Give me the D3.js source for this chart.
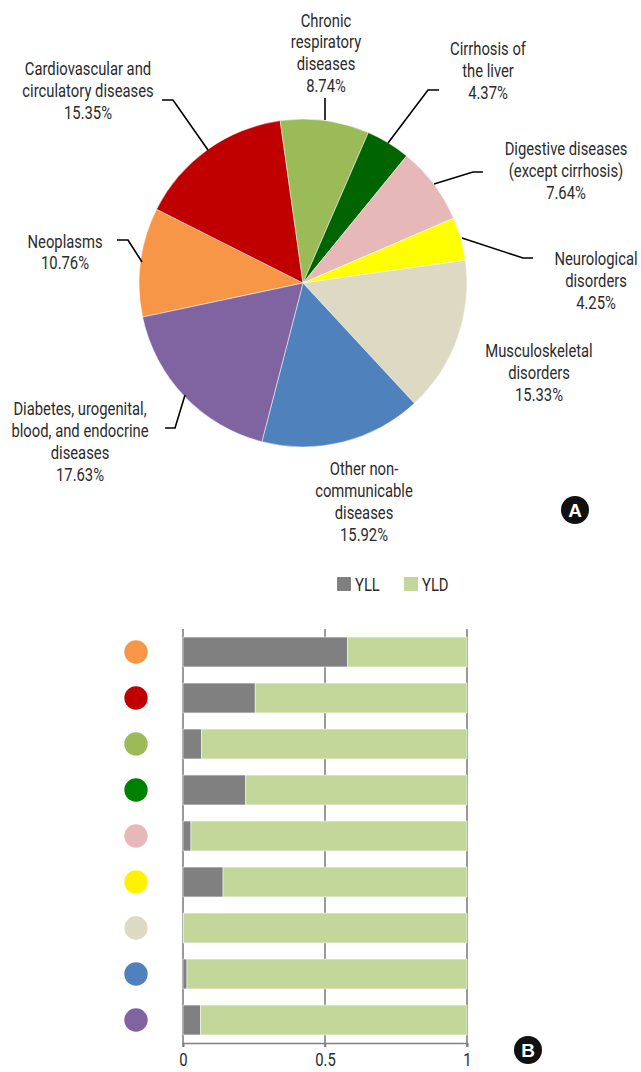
<!DOCTYPE html>
<html><head><meta charset="utf-8">
<script src="https://cdn.jsdelivr.net/npm/d3@7"></script>
<style>
body{margin:0;background:#fff;}
svg{display:block;}
text{font-family:"Roboto","Liberation Sans",sans-serif;fill:#2b2b2b;}
</style></head>
<body>
<script>
const categories = ["Neoplasms","Cardiovascular and circulatory diseases","Chronic respiratory diseases","Cirrhosis of the liver","Digestive diseases (except cirrhosis)","Neurological disorders","Musculoskeletal disorders","Other non-communicable diseases","Diabetes, urogenital, blood, and endocrine diseases"];
const shares = [10.76,15.35,8.74,4.37,7.64,4.25,15.33,15.92,17.63];
const pieColors = ["#F79646","#C00000","#9BBB59","#006400","#E6B9B8","#FFFF00","#DDD9C3","#4F81BD","#8064A2"];
const dotColors = ["#F79646","#C00000","#9BBB59","#008000","#E6B9B8","#FFF200","#DDD9C3","#4F81BD","#8064A2"];
const labelLines = [["Neoplasms","10.76%"],["Cardiovascular and","circulatory diseases","15.35%"],["Chronic","respiratory","diseases","8.74%"],["Cirrhosis of","the liver","4.37%"],["Digestive diseases","(except cirrhosis)","7.64%"],["Neurological","disorders","4.25%"],["Musculoskeletal","disorders","15.33%"],["Other non-","communicable","diseases","15.92%"],["Diabetes, urogenital,","blood, and endocrine","diseases","17.63%"]];
const yll = [0.58,0.254,0.066,0.221,0.028,0.141,0.002,0.014,0.062];
const yld = yll.map(v=>1-v);
const seriesNames = ["YLL","YLD"];
const seriesColors = ["#808080","#C4D79B"];
const xTicks = [0,0.5,1];

const W=641,H=1072;
const SX=0.80, FS=18.5; // condensed look of the font
const svg=d3.select("body").append("svg").attr("width",W).attr("height",H);

// ---- Pie (A)
const cx=303, cy=283, R=164;
const startDeg=-102;
const pie=d3.pie().sort(null).value(d=>d).startAngle(startDeg*Math.PI/180).endAngle((startDeg+360)*Math.PI/180);
const arcs=pie(shares);
const arc=d3.arc().innerRadius(0).outerRadius(R);
const gp=svg.append("g").attr("transform",`translate(${cx},${cy})`);
gp.selectAll("path").data(arcs).join("path").attr("d",arc).attr("fill",(d,i)=>pieColors[i]).attr("stroke","#fff").attr("stroke-width",0.5);

const labelPos = [[65,247.5],[88,75],[326,26.5],[488,55],[566,155],[596,265],[539,357],[364,475],[80,415]];
const leaders = [
  [[117,240],[128,240],[142,262]],
  [[162,100],[173,100],[208,150]],
  [[325,98],[325,120]],
  [[439,90],[428,90],[388,143]],
  [[483,172],[473,172],[434,184]],
  [[533,258],[523,258],[462,238]],
  null,null,
  [[165,428],[175,428],[185,395]]
];
const lh=21.9;
function ctext(x,y,size){
  return svg.append("g").attr("transform",`translate(${x},${y}) scale(${SX},1)`).append("text").attr("font-size",size);
}
labelLines.forEach((lines,i)=>{
  const g=svg.append("g").attr("transform",`translate(${labelPos[i][0]},${labelPos[i][1]}) scale(${SX},1)`);
  const t=g.append("text").attr("text-anchor","middle").attr("font-size",FS);
  lines.forEach((s,j)=>t.append("tspan").attr("x",0).attr("y",j*lh).text(s));
  if(leaders[i]) svg.append("path").attr("d",d3.line()(leaders[i])).attr("fill","none").attr("stroke","#000").attr("stroke-width",1.6);
});
function badge(x,y,l){
  svg.append("circle").attr("cx",x).attr("cy",y).attr("r",14).attr("fill","#111");
  svg.append("text").attr("x",x).attr("y",y+6.5).attr("text-anchor","middle").attr("font-size",19).attr("font-weight","bold").style("font-family","Liberation Sans, Arial, sans-serif").style("fill","#fff").text(l);
}
badge(575,510,"A");

// ---- Bars (B)
const x=d3.scaleLinear().domain([0,1]).range([183,467]);
const y=d3.scaleBand().domain(categories).range([629,1043]).paddingInner(0.35).paddingOuter(0.175);
svg.append("g").selectAll("line").data(xTicks).join("line").attr("x1",d=>x(d)).attr("x2",d=>x(d)).attr("y1",629).attr("y2",1047).attr("stroke","#808080").attr("stroke-width",1.6);
const stackData=categories.map((c,i)=>({cat:c,YLL:yll[i],YLD:yld[i]}));
const stacked=d3.stack().keys(seriesNames)(stackData);
svg.append("g").selectAll("g").data(stacked).join("g").attr("fill",(d,i)=>seriesColors[i])
  .selectAll("rect").data(d=>d).join("rect")
  .attr("x",d=>x(d[0])).attr("width",d=>x(d[1])-x(d[0])).attr("y",d=>y(d.data.cat)).attr("height",y.bandwidth())
  .attr("stroke","#fff").attr("stroke-width",0.5);
const ax=svg.append("g").attr("transform","translate(0,1043)").call(d3.axisBottom(x).tickValues(xTicks).tickFormat(d3.format("~g")).tickSize(4).tickPadding(6));
ax.select(".domain").attr("stroke","#808080").attr("stroke-width",1.6);
ax.selectAll(".tick line").attr("stroke","#808080").attr("stroke-width",1.6);
ax.selectAll(".tick text").attr("font-size",FS).style("fill","#2b2b2b").style("font-family","Roboto, sans-serif")
  .attr("transform",`scale(${SX},1)`);
svg.append("g").selectAll("circle").data(categories).join("circle").attr("cx",136).attr("cy",d=>y(d)+y.bandwidth()/2).attr("r",11.7).attr("fill",(d,i)=>dotColors[i]);

// legend
const lx=[337,404];
seriesNames.forEach((s,i)=>{
  svg.append("rect").attr("x",lx[i]).attr("y",577).attr("width",14).attr("height",14).attr("fill",seriesColors[i]);
  ctext(lx[i]+18,590.5,FS).text(s);
});
badge(528,1050,"B");
</script>
</body></html>
